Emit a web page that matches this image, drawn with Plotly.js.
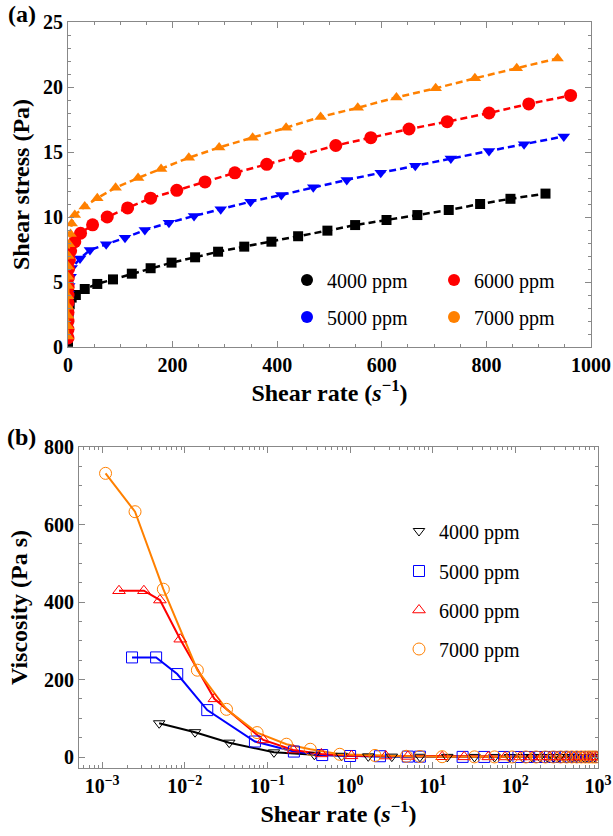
<!DOCTYPE html>
<html><head><meta charset="utf-8">
<script src="https://cdn.plot.ly/plotly-3.0.1.min.js"></script>
<style>body{margin:0;padding:0;background:#fff}#chart{width:613px;height:836px}</style>
</head><body><div id="chart"></div><script>
// ---------- data ----------
const seriesNames = ['4000 ppm', '5000 ppm', '6000 ppm', '7000 ppm'];

// shear rates (s^-1), shared by both panels
const rate4000 = [0.0049, 0.0133, 0.0345, 0.12, 0.37, 0.79, 1.66, 3.2, 7, 15, 32, 56, 86, 122, 158, 198, 243, 287, 337, 389, 440, 496, 549, 609, 668, 728, 788, 846, 913];
const rate5000 = [0.0023, 0.0045, 0.0081, 0.0187, 0.0706, 0.209, 0.46, 1.0, 2.3, 5, 7, 23, 42, 73, 109, 147, 193, 241, 292, 349, 408, 469, 533, 598, 664, 732, 805, 872, 948];
const rate6000 = [0.0016, 0.0032, 0.005, 0.0088, 0.0228, 0.089, 0.205, 0.45, 1.04, 2.7, 5, 13, 24, 47, 75, 114, 158, 208, 262, 319, 380, 440, 512, 579, 652, 725, 805, 881, 961];
const rate7000 = [0.0011, 0.0025, 0.0055, 0.0142, 0.032, 0.075, 0.17, 0.33, 0.75, 2.0, 4.8, 7, 13, 32, 56, 91, 134, 178, 231, 289, 353, 417, 483, 554, 628, 703, 778, 858, 936];

// panel (a): shear stress (Pa)
const stress4000 = [0.4, 0.8, 1.2, 1.7, 2.1, 2.5, 2.9, 3.3, 3.8, 4.0, 4.46, 4.85, 5.2, 5.64, 6.06, 6.49, 6.9, 7.33, 7.72, 8.1, 8.52, 8.95, 9.38, 9.77, 10.15, 10.54, 11.0, 11.4, 11.8];
const stress5000 = [0.6, 1.15, 1.75, 2.3, 2.7, 3.1, 3.6, 4.1, 4.7, 5.4, 6.08, 6.8, 7.46, 7.9, 8.4, 9.0, 9.56, 10.08, 10.6, 11.18, 11.7, 12.28, 12.85, 13.4, 13.95, 14.5, 15.08, 15.6, 16.2];
const stress6000 = [0.7, 1.35, 2.0, 2.65, 3.4, 4.0, 4.6, 5.3, 6.0, 6.7, 7.4, 8.1, 8.75, 9.4, 10.0, 10.7, 11.45, 12.05, 12.7, 13.4, 14.05, 14.7, 15.5, 16.1, 16.77, 17.33, 18.0, 18.7, 19.35];
const stress7000 = [0.8, 1.6, 2.4, 3.1, 3.9, 4.7, 5.4, 6.2, 7.0, 7.9, 8.7, 9.5, 10.15, 10.8, 11.45, 12.25, 13.0, 13.7, 14.56, 15.35, 16.1, 16.87, 17.7, 18.4, 19.2, 19.9, 20.67, 21.44, 22.2];

// panel (b): viscosity (Pa s)
const visc4000 = [87, 64, 37, 12, 5.7, 3.1, 1.7, 1.0, 0.54, 0.27, 0.14, 0.087, 0.06, 0.046, 0.038, 0.033, 0.028, 0.026, 0.023, 0.021, 0.019, 0.018, 0.017, 0.016, 0.015, 0.0145, 0.014, 0.0135, 0.013];
const visc5000 = [257, 257, 214, 121, 40, 14, 5, 2.6, 2.0, 1.08, 0.87, 0.3, 0.18, 0.11, 0.077, 0.061, 0.05, 0.042, 0.036, 0.032, 0.029, 0.026, 0.024, 0.022, 0.021, 0.02, 0.019, 0.018, 0.017];
const visc6000 = [429, 429, 405, 304, 150, 44, 18, 8, 3, 2.5, 1.5, 0.62, 0.36, 0.2, 0.13, 0.094, 0.072, 0.058, 0.048, 0.042, 0.037, 0.033, 0.03, 0.028, 0.026, 0.024, 0.022, 0.021, 0.02];
const visc7000 = [732, 633, 433, 224, 123, 63, 33, 20, 7, 4, 1.8, 1.36, 0.78, 0.34, 0.2, 0.135, 0.097, 0.077, 0.063, 0.053, 0.046, 0.04, 0.037, 0.033, 0.031, 0.028, 0.027, 0.025, 0.024];

const logTickVals = [1e-3, 1e-2, 1e-1, 1e0, 1e1, 1e2, 1e3];
const logTickText = ['10<sup>−3</sup>', '10<sup>−2</sup>', '10<sup>−1</sup>', '10<sup>0</sup>', '10<sup>1</sup>', '10<sup>2</sup>', '10<sup>3</sup>'];

// ---------- styling ----------
const colors = ['#000000', '#0000ff', '#ff0000', '#ff8000'];
const rates = [rate4000, rate5000, rate6000, rate7000];
const stresses = [stress4000, stress5000, stress6000, stress7000];
const viscs = [visc4000, visc5000, visc6000, visc7000];
const symA = ['square', 'triangle-down', 'circle', 'triangle-up'];
const sizeA = [10, 11, 13, 11];
const symB = ['triangle-down-open', 'square-open', 'triangle-up-open', 'circle-open'];
const sizeB = [10, 11, 11, 12];
const FONT = "'Liberation Serif', 'Times New Roman', serif";
const AX = '#888888';

const traces = [];
for (let i = 0; i < 4; i++) {
  traces.push({
    x: rates[i], y: stresses[i], xaxis: 'x', yaxis: 'y', mode: 'lines+markers',
    line: {color: colors[i], width: 2.5, dash: '7px,4px'},
    marker: {symbol: symA[i], size: sizeA[i], color: colors[i]},
    showlegend: false, hoverinfo: 'skip'
  });
}
// legend entries for panel (a): filled circles in two rows
const legA = ['legend', 'legend2', 'legend3', 'legend4'];
for (let i = 0; i < 4; i++) {
  traces.push({
    x: [null], y: [null], xaxis: 'x', yaxis: 'y', mode: 'markers', name: seriesNames[i],
    marker: {symbol: 'circle', size: 12, color: colors[i]}, legend: legA[i]
  });
}
for (let i = 0; i < 4; i++) {
  traces.push({
    x: rates[i], y: viscs[i], xaxis: 'x2', yaxis: 'y2', mode: 'lines',
    line: {color: colors[i], width: 2}, showlegend: false, hoverinfo: 'skip'
  });
}
const legB = ['legend5', 'legend6', 'legend7', 'legend8'];
for (let i = 0; i < 4; i++) {
  traces.push({
    x: rates[i], y: viscs[i], xaxis: 'x2', yaxis: 'y2', mode: 'markers', name: seriesNames[i],
    marker: {symbol: symB[i], size: sizeB[i], color: colors[i], line: {width: 1, color: colors[i]}},
    legend: legB[i]
  });
}

const W = 613, H = 836;
function px(x) { return x / W; }
function py(y) { return 1 - y / H; }
function legendAt(xm, ym) {
  return {x: px(xm - 20), y: py(ym), xanchor: 'left', yanchor: 'middle',
    bgcolor: 'rgba(0,0,0,0)', borderwidth: 0, orientation: 'v',
    font: {family: FONT, size: 20, color: '#000'}};
}
const tickFont = {family: FONT, size: 20, color: '#000', weight: 700};
const titleFont = {family: FONT, size: 24, color: '#000', weight: 700};
function axisBase() {
  return {showline: true, linecolor: AX, linewidth: 1, mirror: 'ticks', ticks: 'inside',
    ticklen: 6, tickcolor: AX, tickwidth: 1, showgrid: false, zeroline: false,
    tickfont: tickFont, automargin: false};
}

const layout = {
  width: W, height: H, margin: {l: 0, r: 0, t: 0, b: 0},
  paper_bgcolor: '#fff', plot_bgcolor: '#fff', font: {family: FONT},
  xaxis: Object.assign(axisBase(), {
    domain: [px(68), px(591)], range: [0, 1000], anchor: 'y', tick0: 0, dtick: 200,
    minor: {dtick: 50, ticks: 'inside', ticklen: 3, tickcolor: AX},
    title: {text: 'Shear rate (<i>s</i><sup>−1</sup>)', font: titleFont, standoff: 7}
  }),
  yaxis: Object.assign(axisBase(), {
    domain: [py(347), py(22)], range: [0, 25], anchor: 'x', tick0: 0, dtick: 5,
    minor: {dtick: 1, ticks: 'inside', ticklen: 3, tickcolor: AX},
    title: {text: 'Shear stress (Pa)', font: titleFont, standoff: 6}
  }),
  xaxis2: Object.assign(axisBase(), {
    type: 'log', domain: [px(79), px(598)], range: [-3.28, 3], anchor: 'y2',
    tickmode: 'array', tickvals: logTickVals, ticktext: logTickText,
    minor: {tickmode: 'array', ticks: 'inside', ticklen: 3, tickcolor: AX,
      tickvals: [5e-4,6e-4,7e-4,8e-4,9e-4,2e-3,3e-3,4e-3,5e-3,6e-3,7e-3,8e-3,9e-3,2e-2,3e-2,4e-2,5e-2,6e-2,7e-2,8e-2,9e-2,
        0.2,0.3,0.4,0.5,0.6,0.7,0.8,0.9,2,3,4,5,6,7,8,9,20,30,40,50,60,70,80,90,200,300,400,500,600,700,800,900]},
    title: {text: 'Shear rate (<i>s</i><sup>−1</sup>)', font: titleFont, standoff: 6}
  }),
  yaxis2: Object.assign(axisBase(), {
    domain: [py(768), py(447)], range: [-28.4, 800], anchor: 'x2', tick0: 0, dtick: 200,
    minor: {dtick: 50, ticks: 'inside', ticklen: 3, tickcolor: AX},
    title: {text: 'Viscosity (Pa s)', font: titleFont, standoff: 9}
  }),
  legend: legendAt(307, 280), legend2: legendAt(307, 317),
  legend3: legendAt(454, 280), legend4: legendAt(454, 317),
  legend5: legendAt(419, 531), legend6: legendAt(419, 571),
  legend7: legendAt(419, 610), legend8: legendAt(419, 649),
  annotations: [
    {text: '(a)', x: px(22), y: py(14), xref: 'paper', yref: 'paper', showarrow: false,
      xanchor: 'center', yanchor: 'middle',
      font: {family: FONT, size: 24, color: '#000', weight: 700}},
    {text: '(b)', x: px(22), y: py(437), xref: 'paper', yref: 'paper', showarrow: false,
      xanchor: 'center', yanchor: 'middle',
      font: {family: FONT, size: 24, color: '#000', weight: 700}}
  ]
};

Plotly.newPlot('chart', traces, layout, {displayModeBar: false, staticPlot: true});
</script></body></html>
